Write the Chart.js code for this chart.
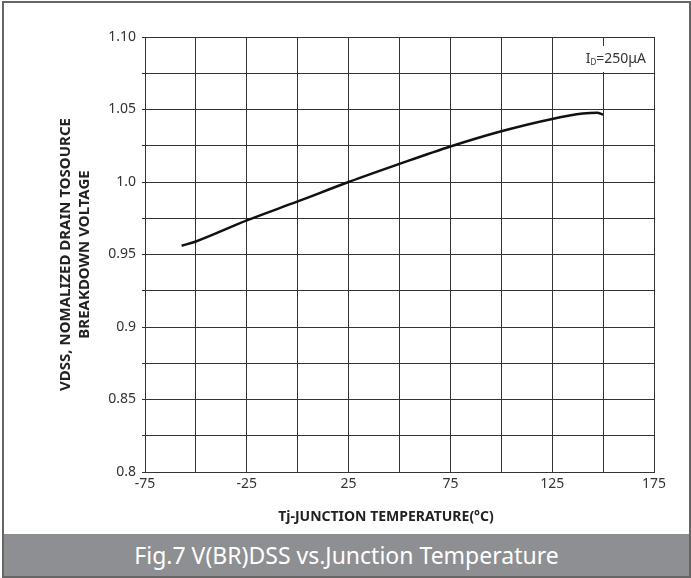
<!DOCTYPE html>
<html>
<head>
<meta charset="utf-8">
<script src="https://cdn.jsdelivr.net/npm/chart.js@4"></script>
<style>
  html, body { margin: 0; padding: 0; background: #fff; }
  #frame {
    position: absolute; left: 2px; top: 1px;
    width: 689px; height: 577px;
    box-sizing: border-box;
    border: 2px solid #666;
    background: #fff;
  }
  #chartBox { position: relative; width: 685px; height: 531px; }
  #caption {
    height: 42px; background: #8e8f92; color: #fff;
    font-family: "Noto Sans", sans-serif; font-size: 23px;
    line-height: 42px; text-align: center;
  }
</style>
</head>
<body>
<div id="frame">
  <div id="chartBox"><canvas id="vdssChart"></canvas></div>
  <div id="caption">Fig.7 V(BR)DSS vs.Junction Temperature</div>
</div>
<script>
// Data
const tempC = [-57, -50, -25, 0, 25, 50, 75, 100, 125, 140, 147, 150];
const vdssNorm = [0.956, 0.959, 0.9735, 0.9866, 1.0, 1.0125, 1.0245, 1.035, 1.0435, 1.0472, 1.0478, 1.0465];
const xTickLabels = [-75, -25, 25, 75, 125, 175];
const yTickLabels = ['0.8', '0.85', '0.9', '0.95', '1.0', '1.05', '1.10'];
const xTitle = 'Tj-JUNCTION TEMPERATURE(°C)';

const tickFont = { family: 'Noto Sans', size: 14 };

// Condition label in the top right corner, plus the x axis title
const extraText = {
    id: 'extraText',
    afterDraw(chart) {
        const ctx = chart.ctx;
        const area = chart.chartArea;
        const right = area.right - 8;
        const midY = area.top + 22;
        ctx.save();
        ctx.fillStyle = '#fff';
        ctx.fillRect(area.right - 76, area.top + 9, 72, 26);
        ctx.fillStyle = '#333';
        ctx.textBaseline = 'middle';
        ctx.font = '14px "Noto Sans"';
        const rest = '=250μA';
        const restW = ctx.measureText(rest).width;
        ctx.font = '8px "Noto Sans"';
        const subW = ctx.measureText('D').width;
        ctx.font = '14px "Noto Sans"';
        const iW = ctx.measureText('I').width;
        let x = right - restW - subW - iW;
        ctx.textAlign = 'left';
        ctx.fillText('I', x, midY);
        x += iW;
        ctx.font = '8px "Noto Sans"';
        ctx.fillText('D', x, midY + 4);
        x += subW;
        ctx.font = '14px "Noto Sans"';
        ctx.fillText(rest, x, midY);

        // x axis title sits a little left of the plot centre in the original
        ctx.fillStyle = '#222';
        ctx.font = 'bold 14px "Noto Sans"';
        ctx.textAlign = 'center';
        ctx.fillText(xTitle, area.left + 241, area.bottom + 45);
        ctx.restore();
    }
};

const ctx = document.getElementById('vdssChart').getContext('2d');
new Chart(ctx, {
    type: 'scatter',
    data: {
        datasets: [{
            data: tempC.map((t, i) => ({ x: t, y: vdssNorm[i] })),
            showLine: true,
            borderColor: '#111',
            borderWidth: 2.5,
            pointRadius: 0,
            cubicInterpolationMode: 'monotone',
            fill: false
        }]
    },
    options: {
        responsive: true,
        maintainAspectRatio: false,
        animation: false,
        layout: { padding: { top: 34, right: 35, left: 0, bottom: 0 } },
        plugins: {
            legend: { display: false },
            tooltip: { enabled: false }
        },
        scales: {
            x: {
                type: 'linear',
                min: -75,
                max: 175,
                afterFit: function(scale) { scale.height = 62; },
                grid: { color: '#333', lineWidth: 1, drawTicks: false },
                border: { color: '#333', width: 1 },
                ticks: {
                    stepSize: 25,
                    autoSkip: false,
                    maxRotation: 0,
                    padding: 4,
                    color: '#333',
                    font: tickFont,
                    callback: function(value) {
                        return xTickLabels.includes(value) ? String(value) : '';
                    }
                }
            },
            y: {
                min: 0.8,
                max: 1.1,
                afterFit: function(scale) { scale.width = 141; },
                grid: { color: '#333', lineWidth: 1, tickLength: 3 },
                border: { color: '#333', width: 1 },
                ticks: {
                    stepSize: 0.025,
                    autoSkip: false,
                    padding: 6,
                    color: '#333',
                    font: tickFont,
                    callback: function(value) {
                        const k = (value - 0.8) / 0.05;
                        const idx = Math.round(k);
                        return Math.abs(k - idx) < 1e-6 ? yTickLabels[idx] : '';
                    }
                }
                ,
                title: {
                    display: true,
                    text: ['VDSS, NOMALIZED DRAIN TOSOURCE', 'BREAKDOWN VOLTAGE'],
                    color: '#222',
                    font: { family: 'Noto Sans', size: 15, weight: 'bold', lineHeight: 1.27 },
                    padding: { top: 52, bottom: 0 }
                }
            }
        }
    },
    plugins: [extraText]
});
</script>
</body>
</html>
